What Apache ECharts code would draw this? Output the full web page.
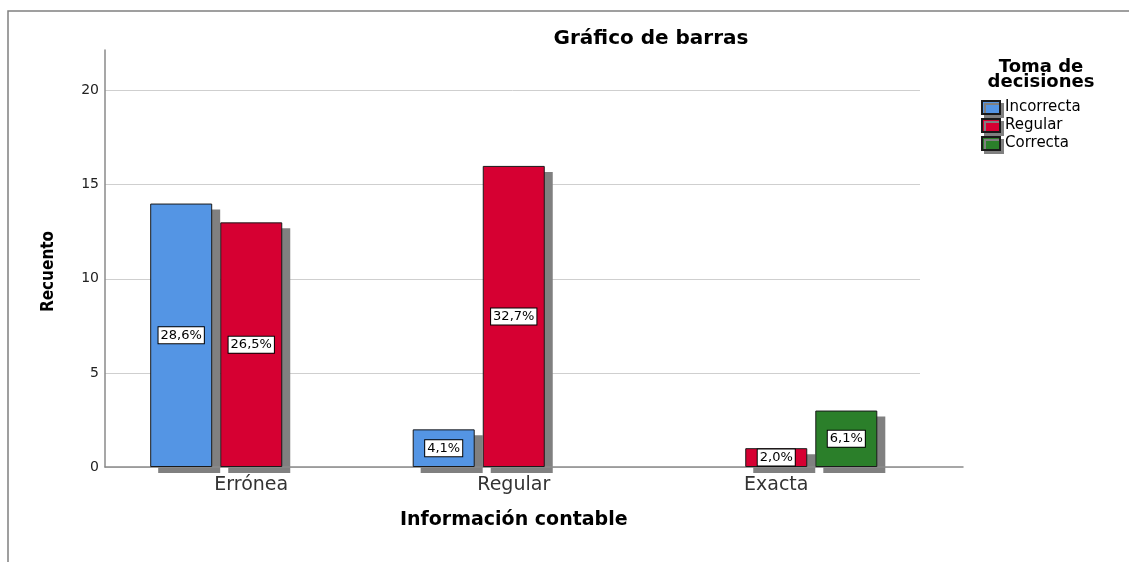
<!DOCTYPE html>
<html>
<head>
<meta charset="utf-8">
<script src="https://cdn.jsdelivr.net/npm/echarts@6/dist/echarts.min.js"></script>
<style>
  html, body { margin: 0; padding: 0; background: #fff; }
  #chart { width: 1129px; height: 562px; }
</style>
</head>
<body>
<div id="chart"></div>
<script>
// categorias del eje X (Información contable)
const categories = ['Errónea', 'Regular', 'Exacta']
// series (Toma de decisiones)
const seriesNames = ['Incorrecta', 'Regular', 'Correcta']
const incorrecta = [14, 2, null]
const regular = [13, 16, 1]
const correcta = [null, null, 3]
const yTicks = [0, 5, 10, 15, 20]

const colors = ['#5495e4', '#d60032', '#2b7f2a']
const font = "'DejaVu Sans', 'Liberation Sans', Arial, sans-serif"

const total = [...incorrecta, ...regular, ...correcta].reduce((a, b) => a + (b || 0), 0)
const pct = v => (v / total * 100).toFixed(1).replace('.', ',') + '%'

const chart = echarts.init(document.getElementById('chart'))

const yMax = 22.16
const allData = [incorrecta, regular, correcta]

// sombras: misma escala, rejilla desplazada unos pixeles
const shadowSeries = allData.map((data, i) => ({
  name: 'sombra ' + seriesNames[i],
  type: 'bar',
  xAxisIndex: 3,
  yAxisIndex: 3,
  barWidth: 62,
  barGap: '13%',
  data: data,
  z: 1,
  silent: true,
  itemStyle: { color: '#808080' }
}))

const barSeries = allData.map((data, i) => ({
  name: seriesNames[i],
  type: 'bar',
  xAxisIndex: 0,
  yAxisIndex: 0,
  barWidth: 62,
  barGap: '13%',
  data: data,
  z: 3,
  itemStyle: {
    color: colors[i],
    borderColor: '#1a1a1a',
    borderWidth: 1
  },
  label: {
    show: true,
    position: 'inside',
    formatter: p => pct(p.value),
    color: '#000',
    fontFamily: font,
    fontSize: 13,
    backgroundColor: '#fff',
    borderColor: '#000',
    borderWidth: 1,
    padding: [2, 2, 1, 2]
  },
  emphasis: { disabled: true }
}))

const options = {
  animation: false,
  backgroundColor: '#fff',
  title: [
    {
      text: 'Gráfico de barras',
      left: 646,
      top: 24,
      textAlign: 'center',
      textStyle: { fontFamily: font, fontSize: 20, fontWeight: 'bold', color: '#000' }
    },
    {
      text: 'Toma de\ndecisiones',
      left: 1036,
      top: 55,
      textAlign: 'center',
      textStyle: { fontFamily: font, fontSize: 18, fontWeight: 'bold', color: '#000', lineHeight: 15 }
    }
  ],
  legend: {
    orient: 'vertical',
    left: 981,
    top: 100,
    padding: 0,
    icon: 'rect',
    itemWidth: 18,
    itemHeight: 13,
    itemGap: 3,
    data: seriesNames,
    textStyle: { fontFamily: font, fontSize: 15, color: '#000' },
    itemStyle: { shadowColor: '#808080', shadowBlur: 0, shadowOffsetX: 3, shadowOffsetY: 3 }
  },
  grid: [
    // barras
    { left: 120, width: 787.5, top: 50, bottom: 95 },
    // ejes
    { left: 105, right: 166, top: 50, bottom: 95 },
    // lineas de cuadricula
    { left: 105, right: 209, top: 50, bottom: 95 },
    // sombras
    { left: 128, width: 787.5, top: 56, bottom: 89 }
  ],
  xAxis: [
    {
      gridIndex: 0,
      type: 'category',
      data: categories,
      axisLine: { show: false },
      axisTick: { show: false },
      axisLabel: { fontFamily: font, fontSize: 19, color: '#333', margin: 9 },
      name: 'Información contable',
      nameLocation: 'middle',
      nameGap: 44,
      nameTextStyle: { fontFamily: font, fontSize: 19, fontWeight: 'bold', color: '#000' }
    },
    {
      gridIndex: 1,
      type: 'value',
      min: 0,
      max: 1,
      z: 2,
      axisLine: { show: true, lineStyle: { color: '#8a8a8a', width: 1.5 } },
      axisTick: { show: false },
      axisLabel: { show: false },
      splitLine: { show: false }
    },
    { gridIndex: 2, type: 'value', min: 0, max: 1, show: false },
    { gridIndex: 3, type: 'category', data: categories, show: false }
  ],
  yAxis: [
    { gridIndex: 0, type: 'value', min: 0, max: yMax, show: false },
    {
      gridIndex: 1,
      type: 'value',
      min: 0,
      max: yMax,
      interval: 5,
      z: 2,
      axisLine: { show: true, lineStyle: { color: '#8a8a8a', width: 1.5 } },
      axisTick: { show: false },
      axisLabel: {
        fontFamily: font,
        fontSize: 14,
        color: '#222',
        margin: 6,
        formatter: v => (yTicks.includes(v) ? String(v) : '')
      },
      splitLine: { show: false },
      name: 'Recuento',
      nameLocation: 'middle',
      nameGap: 48,
      nameTextStyle: {
        fontFamily: "'DejaVu Sans Condensed', 'Liberation Sans', Arial, sans-serif",
        fontSize: 17,
        fontWeight: 'bold',
        color: '#000',
        padding: [0, 26, 0, 0]
      }
    },
    {
      gridIndex: 2,
      type: 'value',
      min: 0,
      max: yMax,
      interval: 5,
      axisLine: { show: false },
      axisTick: { show: false },
      axisLabel: { show: false },
      splitLine: { show: true, showMaxLine: false, lineStyle: { color: '#cfcfcf', width: 1 } }
    },
    { gridIndex: 3, type: 'value', min: 0, max: yMax, show: false }
  ],
  graphic: [
    {
      type: 'rect',
      shape: { x: 8, y: 11, width: 1200, height: 600 },
      style: { fill: 'none', stroke: '#808080', lineWidth: 1.5 },
      silent: true,
      z: -1
    }
  ],
  series: [...shadowSeries, ...barSeries]
}

chart.setOption(options)
</script>
</body>
</html>
